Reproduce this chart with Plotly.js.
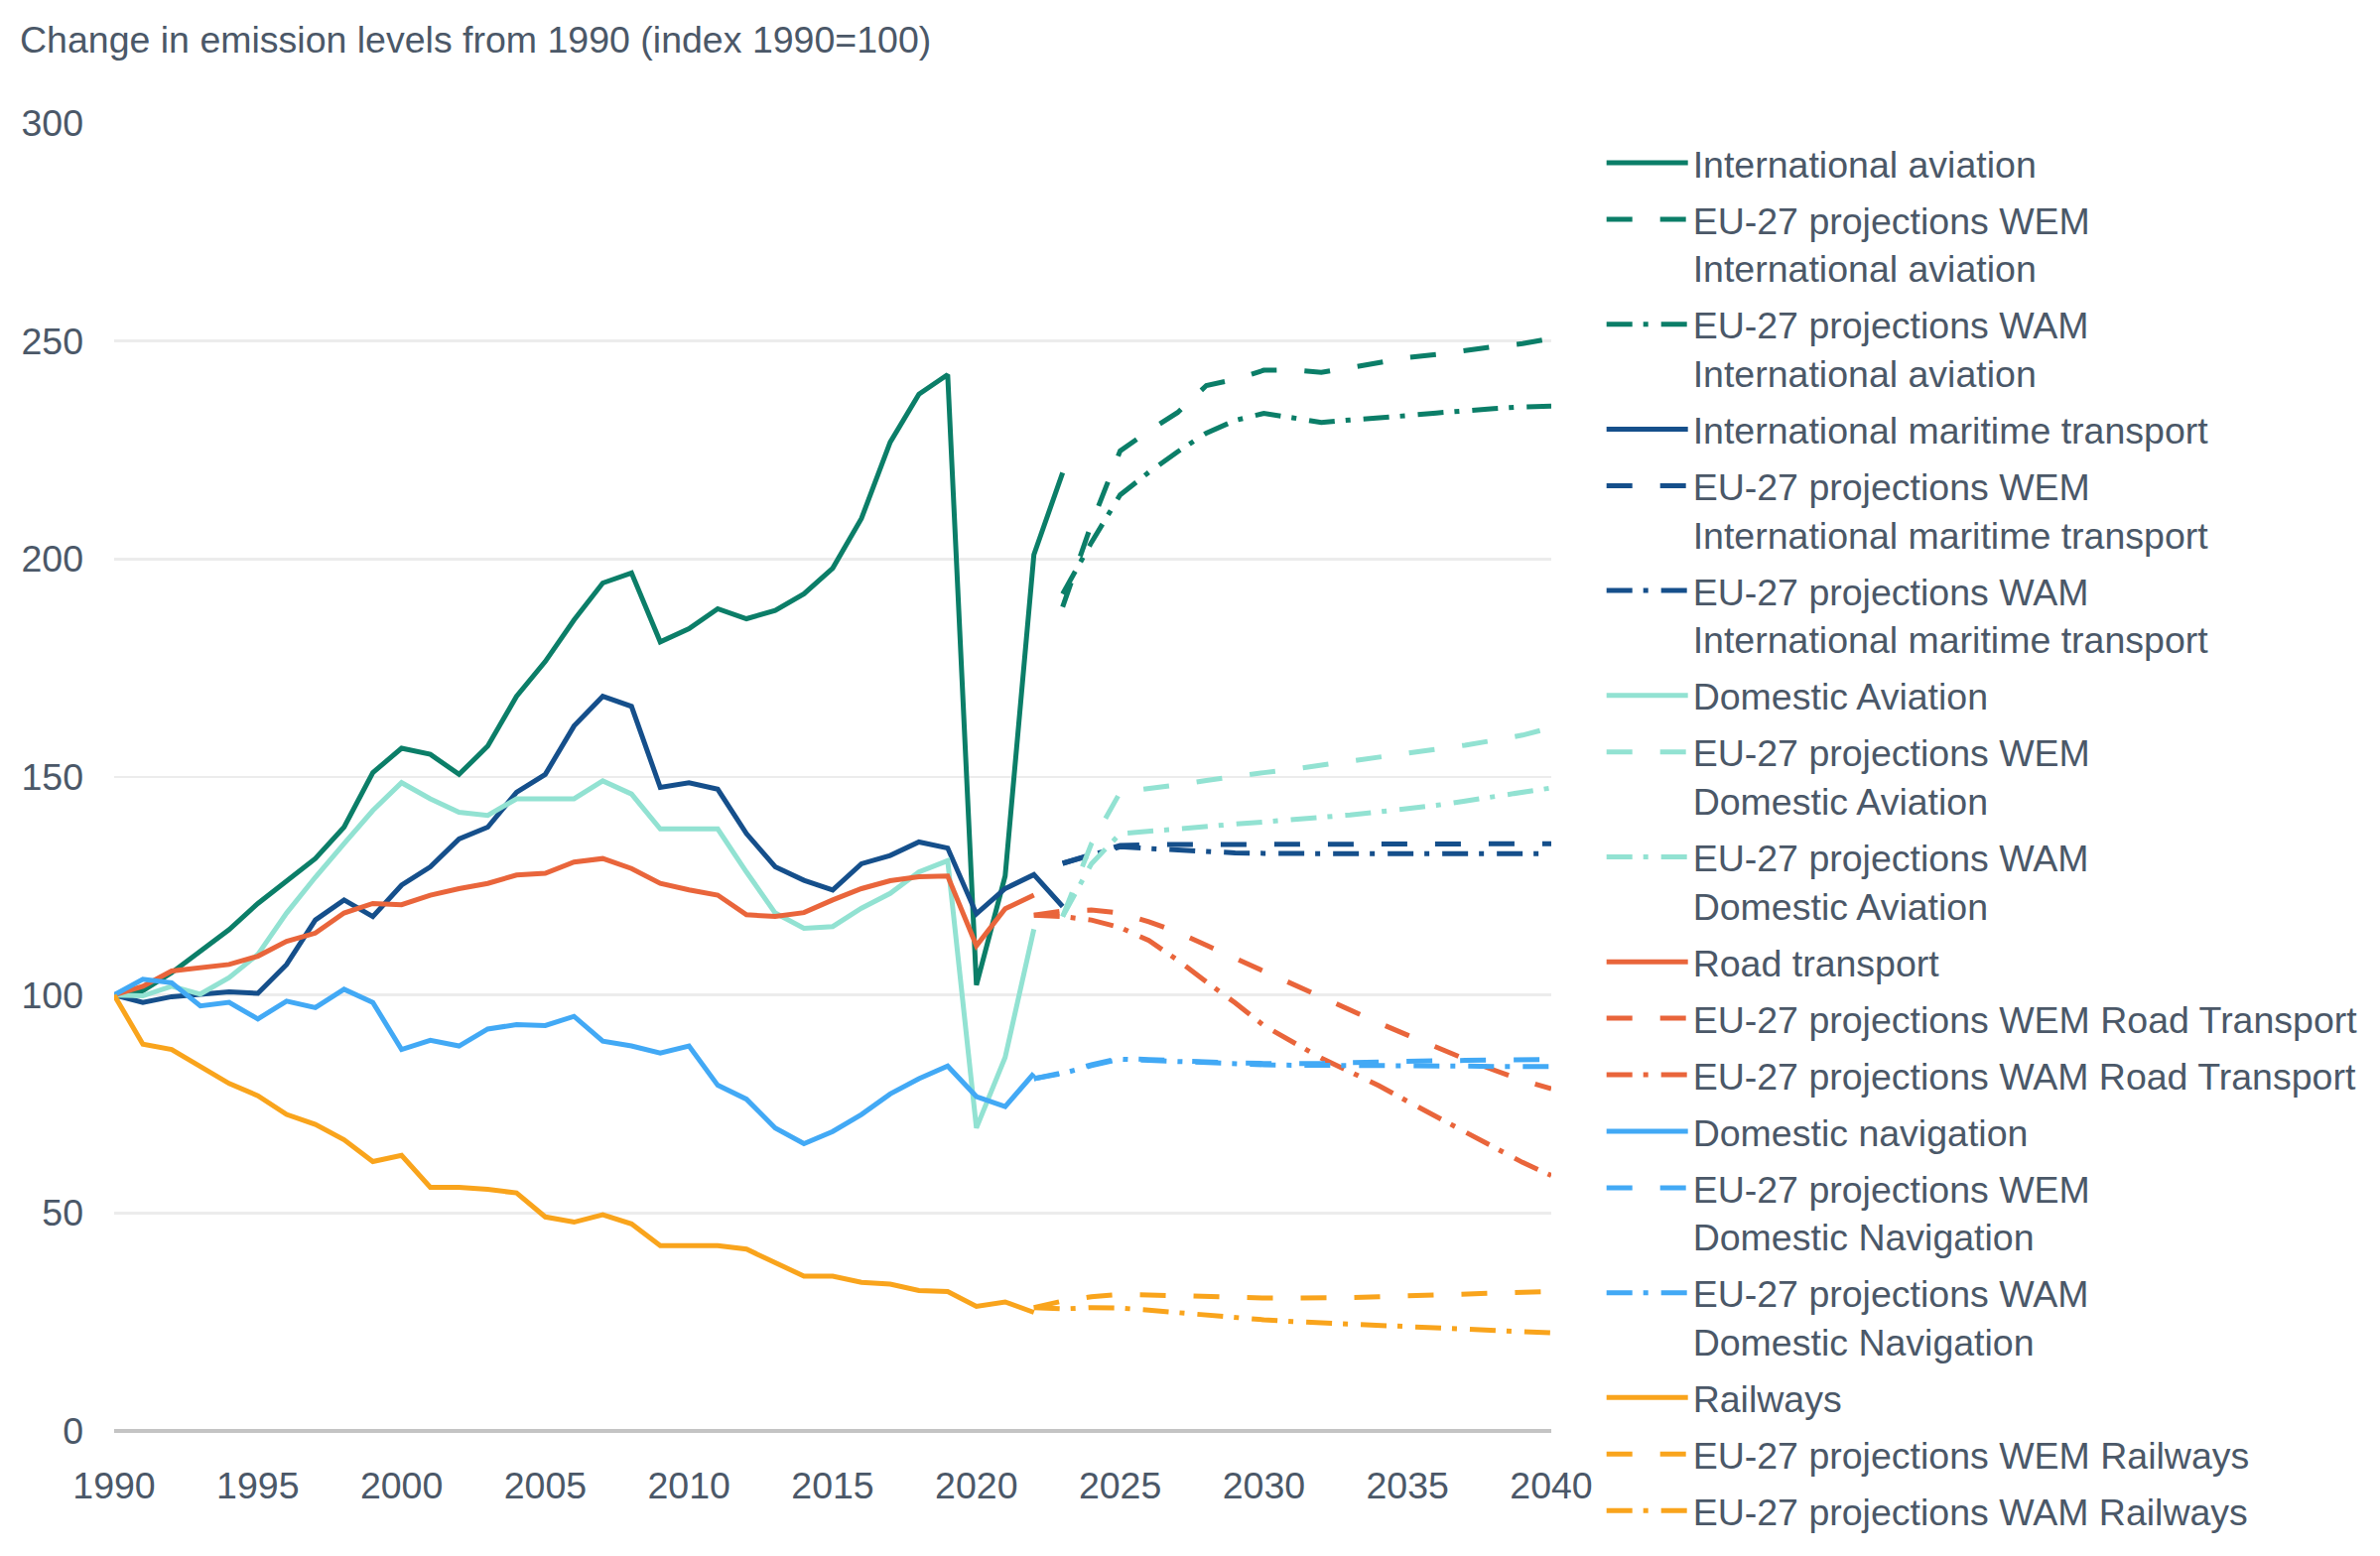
<!DOCTYPE html>
<html>
<head>
<meta charset="utf-8">
<script src="https://cdn.plot.ly/plotly-3.0.1.min.js"></script>
<style>
  html, body { margin: 0; padding: 0; background: #ffffff; }
  #chart { width: 2398px; height: 1568px; }
</style>
</head>
<body>
<div id="chart"></div>
<script>
// ---- Data (index 1990 = 100) ----
const yearsHist = [1990,1991,1992,1993,1994,1995,1996,1997,1998,1999,2000,2001,2002,2003,2004,2005,2006,2007,2008,2009,2010,2011,2012,2013,2014,2015,2016,2017,2018,2019,2020,2021,2022,2023];
const yearsProj23 = [2023,2024,2025,2026,2027,2028,2029,2030,2031,2032,2033,2034,2035,2036,2037,2038,2039,2040];
const yearsProj22 = [2022,2023,2024,2025,2026,2027,2028,2029,2030,2031,2032,2033,2034,2035,2036,2037,2038,2039,2040];

const intAviation = [100,101,105.1,110,115,121,126.3,131.3,138.5,151,156.6,155.2,150.6,157.1,168.5,176.5,186,194.5,196.8,181,184,188.6,186.3,188.2,192,197.9,209.3,226.8,237.8,242.3,102.3,127.3,201,219.8];
const intAviationWEM = [189,208,224.8,229.4,233.6,239.8,241.2,243.3,243.4,242.8,243.9,245,246.2,246.9,247.9,248.7,249.4,250.6];
const intAviationWAM = [192,203.8,214.7,219.9,224.6,228.9,231.8,233.4,232.4,231.3,231.9,232.3,232.9,233.5,234.1,234.5,234.9,235.1];

const intMaritime = [100,98.3,99.6,100.2,100.7,100.4,107,117.2,121.8,118,125.2,129.4,135.8,138.5,146.5,150.6,161.7,168.5,166.2,147.6,148.7,147.2,137,129.4,126.3,124.1,130.1,132,135.1,133.7,118.6,124.4,127.6,120.3];
const intMaritimeWEM = [130.2,132.2,134.3,134.5,134.5,134.6,134.6,134.6,134.7,134.7,134.7,134.7,134.7,134.7,134.7,134.7,134.7,134.7];
const intMaritimeWAM = [130.2,132.1,134,133.6,133.2,132.8,132.6,132.5,132.4,132.4,132.4,132.4,132.4,132.4,132.4,132.4,132.4,132.4];

const domAviation = [100,99.8,102,100.2,104,109.3,118.8,127,134.7,142.3,148.7,145,141.9,141.2,145,145,145,149.1,146.1,138.1,138.1,138.1,128.2,118.8,115.3,115.7,119.9,123.3,128.2,130.8,69.5,85.7,115.1];
const domAviationWEM = [118,134.7,146.5,147.3,148.2,149.2,150.2,151,151.8,152.7,153.6,154.5,155.4,156.3,157.3,158.4,159.6,161.3];
const domAviationWAM = [118,130.1,137,137.6,138.1,138.7,139.2,139.7,140.2,140.7,141.3,142,142.7,143.5,144.5,145.5,146.5,147.5];

const road = [100,102,105.5,106.2,107,108.9,112.3,114.2,118.8,121,120.7,122.9,124.4,125.6,127.5,127.9,130.5,131.3,129,125.6,124.1,122.9,118.4,118,118.9,121.8,124.4,126.2,127.1,127.3,111.3,119.8,122.9];
const roadWEM = [118.3,119.3,119.5,118.8,116.8,114.4,111.4,108.4,105.4,102.5,99.6,96.6,93.6,90.8,88,85.3,82.8,80.4,78.5];
const roadWAM = [118.3,118,117.2,115.5,112.5,108,103,98.2,93,89.3,85.5,82.4,79.2,75.6,72.2,68.6,65.1,61.6,58.6];

const domNavigation = [100,103.6,102.8,97.5,98.3,94.5,98.6,97.1,101.3,98.3,87.5,89.6,88.3,92.2,93.2,93,95.1,89.4,88.3,86.7,88.3,79.3,76.1,69.5,65.9,68.7,72.6,77.3,80.8,83.7,76.7,74.4,82];
const domNavigationWEM = [80.8,82.2,84,85.5,85.2,84.9,84.6,84.4,84.3,84.2,84.3,84.5,84.7,84.8,84.9,85,85.1,85.2,85.2];
const domNavigationWAM = [80.8,82,83.8,85.3,85,84.7,84.4,84.2,84,83.9,83.9,83.8,83.8,83.7,83.7,83.7,83.6,83.6,83.6];

const railways = [100,88.7,87.5,83.6,79.7,76.9,72.6,70.3,66.8,61.8,63.2,55.9,55.9,55.4,54.6,49.1,47.9,49.6,47.5,42.5,42.5,42.5,41.7,38.6,35.5,35.5,34.1,33.7,32.2,32,28.6,29.6,27.2];
const railwaysWEM = [28.3,29.8,30.8,31.3,31.2,31,30.8,30.6,30.5,30.5,30.5,30.6,30.8,31,31.1,31.3,31.5,31.8,32];
const railwaysWAM = [28.3,28,28.3,28.2,27.7,27.1,26.5,26,25.5,25.1,24.8,24.5,24.2,24,23.7,23.3,23,22.8,22.5];

const xTicks = [1990,1995,2000,2005,2010,2015,2020,2025,2030,2035,2040];
const yTicks = [0,50,100,150,200,250,300];

// ---- Styles ----
const C_IA = '#0b7e68', C_IM = '#154f8b', C_DA = '#92e2d2', C_RD = '#e9653b', C_DN = '#42a9f5', C_RW = '#f9a41c';
const LW = 5;
const DASH = '26px,28px';
const DASHDOT = '26px,11px,5px,13px';
const FONT = 'Liberation Sans, Arial, sans-serif';
const TXT = '#4b5868';

let groupCounter = 0;
function tr(x, y, name, color, dash) {
  groupCounter += 1;
  return { x: x, y: y, name: name, type: 'scatter', mode: 'lines',
           legendgroup: 'g' + String(groupCounter).padStart(2, '0'),
           line: { color: color, width: LW, dash: dash }, hoverinfo: 'skip' };
}

const traces = [
  tr(yearsHist, intAviation, 'International aviation', C_IA, 'solid'),
  tr(yearsProj23, intAviationWEM, 'EU-27 projections WEM<br>International aviation', C_IA, DASH),
  tr(yearsProj23, intAviationWAM, 'EU-27 projections WAM<br>International aviation', C_IA, DASHDOT),
  tr(yearsHist, intMaritime, 'International maritime transport', C_IM, 'solid'),
  tr(yearsProj23, intMaritimeWEM, 'EU-27 projections WEM<br>International maritime transport', C_IM, DASH),
  tr(yearsProj23, intMaritimeWAM, 'EU-27 projections WAM<br>International maritime transport', C_IM, DASHDOT),
  tr(yearsHist, domAviation, 'Domestic Aviation', C_DA, 'solid'),
  tr(yearsProj23, domAviationWEM, 'EU-27 projections WEM<br>Domestic Aviation', C_DA, DASH),
  tr(yearsProj23, domAviationWAM, 'EU-27 projections WAM<br>Domestic Aviation', C_DA, DASHDOT),
  tr(yearsHist, road, 'Road transport', C_RD, 'solid'),
  tr(yearsProj22, roadWEM, 'EU-27 projections WEM Road Transport', C_RD, DASH),
  tr(yearsProj22, roadWAM, 'EU-27 projections WAM Road Transport', C_RD, DASHDOT),
  tr(yearsHist, domNavigation, 'Domestic navigation', C_DN, 'solid'),
  tr(yearsProj22, domNavigationWEM, 'EU-27 projections WEM<br>Domestic Navigation', C_DN, DASH),
  tr(yearsProj22, domNavigationWAM, 'EU-27 projections WAM<br>Domestic Navigation', C_DN, DASHDOT),
  tr(yearsHist, railways, 'Railways', C_RW, 'solid'),
  tr(yearsProj22, railwaysWEM, 'EU-27 projections WEM Railways', C_RW, DASH),
  tr(yearsProj22, railwaysWAM, 'EU-27 projections WAM Railways', C_RW, DASHDOT)
];

const layout = {
  width: 2398, height: 1568,
  paper_bgcolor: '#ffffff', plot_bgcolor: '#ffffff',
  margin: { l: 115, r: 835, t: 124, b: 126, pad: 0, autoexpand: false },
  font: { family: FONT, size: 37.5, color: TXT },
  title: { text: 'Change in emission levels from 1990 (index 1990=100)',
           x: 20 / 2398, xref: 'container', xanchor: 'left',
           y: 1 - 40 / 1568, yref: 'container', yanchor: 'middle',
           font: { family: FONT, size: 37.5, color: TXT } },
  xaxis: { range: [1990, 2040], tickmode: 'array', tickvals: xTicks, ticktext: xTicks.map(String),
           showgrid: false, zeroline: false, showline: false, ticks: '', automargin: false,
           ticklabelstandoff: 29, tickfont: { family: FONT, size: 37.5, color: TXT } },
  yaxis: { range: [0, 300], tickmode: 'array', tickvals: yTicks, ticktext: yTicks.map(String),
           showgrid: true, gridcolor: '#ececec', gridwidth: 2.5, automargin: false,
           zeroline: true, zerolinecolor: '#c4c4c4', zerolinewidth: 3.5,
           showline: false, ticks: '', ticklabelstandoff: 30,
           tickfont: { family: FONT, size: 37.5, color: TXT } },
  showlegend: true,
  legend: { x: 1.035, xanchor: 'left', y: 0.993, yanchor: 'top',
            valign: 'top', itemwidth: 82, tracegroupgap: 5.2, traceorder: 'grouped',
            maxheight: 1560,
            bgcolor: 'rgba(0,0,0,0)', borderwidth: 0,
            font: { family: FONT, size: 37.5, color: TXT } }
};

Plotly.newPlot('chart', traces, layout, { displayModeBar: false, staticPlot: true });
</script>
</body>
</html>
